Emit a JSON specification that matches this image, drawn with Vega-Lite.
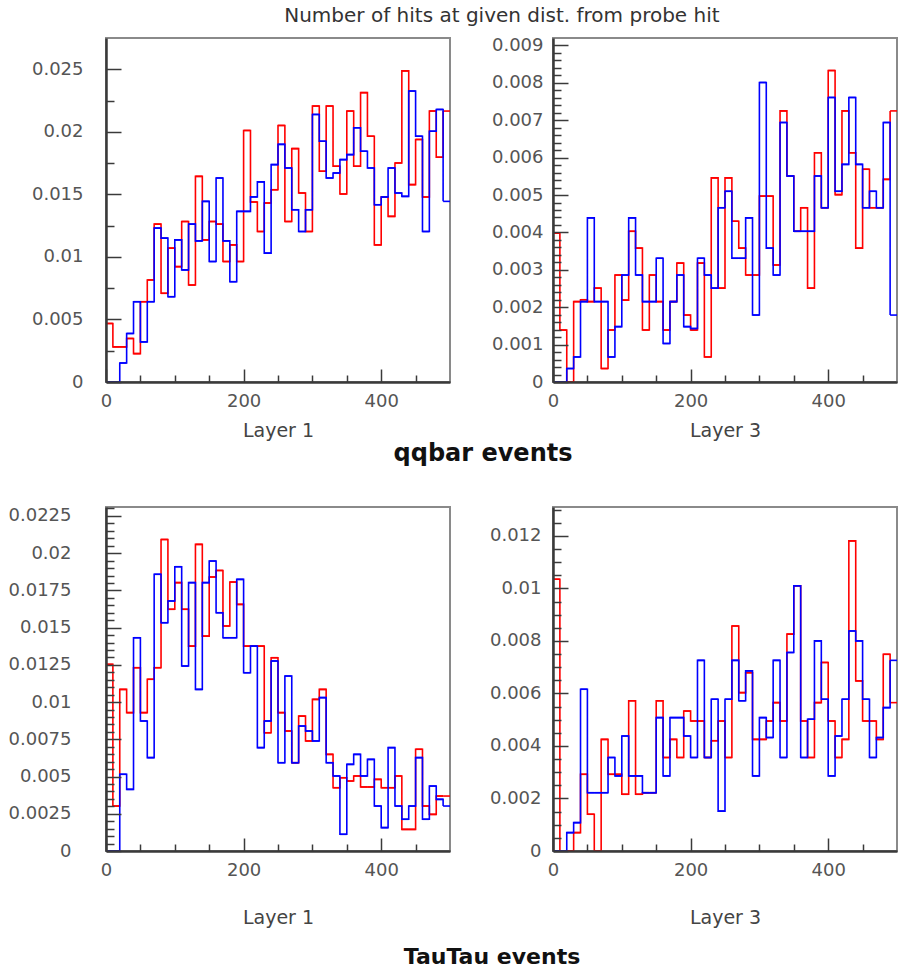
{
"$schema": "https://vega.github.io/schema/vega-lite/v6.json",
"background": "white",
"padding": {"left": 7, "top": 6, "right": 5, "bottom": 5},
"title": {"text": "Number of hits at given dist. from probe hit", "anchor": "middle", "frame": "bounds", "dx": 49, "font": "DejaVu Sans", "fontSize": 20, "fontWeight": "normal", "color": "#333", "offset": 9},
"config": {
  "view": {"stroke": "#8a8a8a", "strokeWidth": 2},
  "axis": {"grid": false, "domainColor": "#3a3a3a", "domainWidth": 2.5, "tickColor": "#3a3a3a", "tickWidth": 1.5, "labelFont": "DejaVu Sans", "labelFontSize": 18, "labelColor": "#555", "titleFont": "DejaVu Sans", "titleFontSize": 19, "titleFontWeight": "normal", "titleColor": "#444", "labelFlush": false, "zindex": 1}
},
"datasets": {
"q1": [
{"lo":0,"hi":10,"r":0.00468,"b":0},{"lo":10,"hi":20,"r":0.00281,"b":0},{"lo":20,"hi":30,"r":0.00281,"b":0.00152},{"lo":30,"hi":40,"r":0.00348,"b":0.00388},{"lo":40,"hi":50,"r":0.00227,"b":0.00642},
{"lo":50,"hi":60,"r":0.00642,"b":0.00321},{"lo":60,"hi":70,"r":0.00816,"b":0.00642},{"lo":70,"hi":80,"r":0.01262,"b":0.0123},{"lo":80,"hi":90,"r":0.00709,"b":0.0115},{"lo":90,"hi":100,"r":0.0107,"b":0.00682},
{"lo":100,"hi":110,"r":0.00922,"b":0.01136},{"lo":110,"hi":120,"r":0.01283,"b":0.00896},{"lo":120,"hi":130,"r":0.00775,"b":0.01262},{"lo":130,"hi":140,"r":0.01644,"b":0.01128},{"lo":140,"hi":150,"r":0.01136,"b":0.01444},
{"lo":150,"hi":160,"r":0.01283,"b":0.00963},{"lo":160,"hi":170,"r":0.01262,"b":0.01631},{"lo":170,"hi":180,"r":0.00963,"b":0.01128},{"lo":180,"hi":190,"r":0.01096,"b":0.00802},{"lo":190,"hi":200,"r":0.00963,"b":0.01364},
{"lo":200,"hi":210,"r":0.02011,"b":0.01364},{"lo":210,"hi":220,"r":0.01439,"b":0.0148},{"lo":220,"hi":230,"r":0.01203,"b":0.016},{"lo":230,"hi":240,"r":0.01431,"b":0.0103},{"lo":240,"hi":250,"r":0.01537,"b":0.01738},
{"lo":250,"hi":260,"r":0.02051,"b":0.019},{"lo":260,"hi":270,"r":0.01283,"b":0.01711},{"lo":270,"hi":280,"r":0.01866,"b":0.01377},{"lo":280,"hi":290,"r":0.01511,"b":0.01203},{"lo":290,"hi":300,"r":0.01203,"b":0.01377},
{"lo":300,"hi":310,"r":0.02206,"b":0.02139},{"lo":310,"hi":320,"r":0.01685,"b":0.01925},{"lo":320,"hi":330,"r":0.02206,"b":0.01631},{"lo":330,"hi":340,"r":0.01725,"b":0.01671},{"lo":340,"hi":350,"r":0.01503,"b":0.01778},
{"lo":350,"hi":360,"r":0.02166,"b":0.01818},{"lo":360,"hi":370,"r":0.01725,"b":0.02032},{"lo":370,"hi":380,"r":0.02313,"b":0.01845},{"lo":380,"hi":390,"r":0.01965,"b":0.01711},{"lo":390,"hi":400,"r":0.01096,"b":0.01417},
{"lo":400,"hi":410,"r":0.01479,"b":0.01479},{"lo":410,"hi":420,"r":0.01324,"b":0.01711},{"lo":420,"hi":430,"r":0.01751,"b":0.01511},{"lo":430,"hi":440,"r":0.02487,"b":0.01484},{"lo":440,"hi":450,"r":0.01578,"b":0.02326},
{"lo":450,"hi":460,"r":0.01939,"b":0.01965},{"lo":460,"hi":470,"r":0.01479,"b":0.01203},{"lo":470,"hi":480,"r":0.02166,"b":0.02005},{"lo":480,"hi":490,"r":0.01797,"b":0.02179},{"lo":490,"hi":500,"r":0.02166,"b":0.01444}
],
"q3": [
{"lo":0,"hi":10,"r":0.00398,"b":0},{"lo":10,"hi":20,"r":0.00139,"b":0},{"lo":20,"hi":30,"r":0,"b":0.00036},{"lo":30,"hi":40,"r":0.00215,"b":0.00067},{"lo":40,"hi":50,"r":0.0022,"b":0.00215},
{"lo":50,"hi":60,"r":0.00215,"b":0.00439},{"lo":60,"hi":70,"r":0.00251,"b":0.00215},{"lo":70,"hi":80,"r":0.00036,"b":0.00215},{"lo":80,"hi":90,"r":0.00139,"b":0.00067},{"lo":90,"hi":100,"r":0.00286,"b":0.00148},
{"lo":100,"hi":110,"r":0.00219,"b":0.00286},{"lo":110,"hi":120,"r":0.00403,"b":0.00439},{"lo":120,"hi":130,"r":0.00358,"b":0.00286},{"lo":130,"hi":140,"r":0.00139,"b":0.00215},{"lo":140,"hi":150,"r":0.00286,"b":0.00215},
{"lo":150,"hi":160,"r":0.00215,"b":0.00331},{"lo":160,"hi":170,"r":0.00139,"b":0.00103},{"lo":170,"hi":180,"r":0.00215,"b":0.00215},{"lo":180,"hi":190,"r":0.00318,"b":0.00286},{"lo":190,"hi":200,"r":0.00179,"b":0.00148},
{"lo":200,"hi":210,"r":0.00139,"b":0.00143},{"lo":210,"hi":220,"r":0.00318,"b":0.00331},{"lo":220,"hi":230,"r":0.00067,"b":0.00286},{"lo":230,"hi":240,"r":0.00546,"b":0.00251},{"lo":240,"hi":250,"r":0.00251,"b":0.00466},
{"lo":250,"hi":260,"r":0.00546,"b":0.0051},{"lo":260,"hi":270,"r":0.0043,"b":0.00331},{"lo":270,"hi":280,"r":0.00358,"b":0.00331},{"lo":280,"hi":290,"r":0.00286,"b":0.00439},{"lo":290,"hi":300,"r":0.00286,"b":0.00179},
{"lo":300,"hi":310,"r":0.00497,"b":0.00801},{"lo":310,"hi":320,"r":0.00497,"b":0.00358},{"lo":320,"hi":330,"r":0.00313,"b":0.00286},{"lo":330,"hi":340,"r":0.00725,"b":0.00694},{"lo":340,"hi":350,"r":0.00551,"b":0.00551},
{"lo":350,"hi":360,"r":0.00403,"b":0.00403},{"lo":360,"hi":370,"r":0.00466,"b":0.00403},{"lo":370,"hi":380,"r":0.00251,"b":0.00403},{"lo":380,"hi":390,"r":0.00613,"b":0.00551},{"lo":390,"hi":400,"r":0.00466,"b":0.00466},
{"lo":400,"hi":410,"r":0.00833,"b":0.00761},{"lo":410,"hi":420,"r":0.00501,"b":0.0051},{"lo":420,"hi":430,"r":0.00725,"b":0.00582},{"lo":430,"hi":440,"r":0.00613,"b":0.00761},{"lo":440,"hi":450,"r":0.00358,"b":0.00582},
{"lo":450,"hi":460,"r":0.00569,"b":0.00466},{"lo":460,"hi":470,"r":0.00466,"b":0.0051},{"lo":470,"hi":480,"r":0.00466,"b":0.00466},{"lo":480,"hi":490,"r":0.00542,"b":0.00694},{"lo":490,"hi":500,"r":0.00725,"b":0.00179}
],
"t1": [
{"lo":0,"hi":10,"r":0.01253,"b":0},{"lo":10,"hi":20,"r":0.00302,"b":0},{"lo":20,"hi":30,"r":0.01085,"b":0.00515},{"lo":30,"hi":40,"r":0.00929,"b":0.00414},{"lo":40,"hi":50,"r":0.01231,"b":0.01432},
{"lo":50,"hi":60,"r":0.00929,"b":0.00873},{"lo":60,"hi":70,"r":0.01153,"b":0.00627},{"lo":70,"hi":80,"r":0.01231,"b":0.01858},{"lo":80,"hi":90,"r":0.02092,"b":0.01533},{"lo":90,"hi":100,"r":0.01623,"b":0.01679},
{"lo":100,"hi":110,"r":0.01802,"b":0.01909},{"lo":110,"hi":120,"r":0.01623,"b":0.01242},{"lo":120,"hi":130,"r":0.01376,"b":0.01802},{"lo":130,"hi":140,"r":0.02059,"b":0.01085},{"lo":140,"hi":150,"r":0.01443,"b":0.01802},
{"lo":150,"hi":160,"r":0.0184,"b":0.01947},{"lo":160,"hi":170,"r":0.01884,"b":0.016},{"lo":170,"hi":180,"r":0.01511,"b":0.01432},{"lo":180,"hi":190,"r":0.01806,"b":0.01432},{"lo":190,"hi":200,"r":0.01656,"b":0.01824},
{"lo":200,"hi":210,"r":0.01376,"b":0.01197},{"lo":210,"hi":220,"r":0.01376,"b":0.01376},{"lo":220,"hi":230,"r":0.01376,"b":0.00694},{"lo":230,"hi":240,"r":0.00794,"b":0.00873},{"lo":240,"hi":250,"r":0.01298,"b":0.01276},
{"lo":250,"hi":260,"r":0.00929,"b":0.00593},{"lo":260,"hi":270,"r":0.00806,"b":0.01175},{"lo":270,"hi":280,"r":0.00593,"b":0.00593},{"lo":280,"hi":290,"r":0.00906,"b":0.00839},{"lo":290,"hi":300,"r":0.00739,"b":0.00806},
{"lo":300,"hi":310,"r":0.01018,"b":0.00739},{"lo":310,"hi":320,"r":0.01085,"b":0.0103},{"lo":320,"hi":330,"r":0.00649,"b":0.00593},{"lo":330,"hi":340,"r":0.00425,"b":0.00504},{"lo":340,"hi":350,"r":0.00492,"b":0.00112},
{"lo":350,"hi":360,"r":0.0047,"b":0.00582},{"lo":360,"hi":370,"r":0.00504,"b":0.00649},{"lo":370,"hi":380,"r":0.0043,"b":0.00504},{"lo":380,"hi":390,"r":0.0043,"b":0.00615},{"lo":390,"hi":400,"r":0.00481,"b":0.00302},
{"lo":400,"hi":410,"r":0.00425,"b":0.00157},{"lo":410,"hi":420,"r":0.00425,"b":0.00694},{"lo":420,"hi":430,"r":0.00504,"b":0.00302},{"lo":430,"hi":440,"r":0.00145,"b":0.00213},{"lo":440,"hi":450,"r":0.00145,"b":0.00302},
{"lo":450,"hi":460,"r":0.00683,"b":0.00627},{"lo":460,"hi":470,"r":0.00302,"b":0.00213},{"lo":470,"hi":480,"r":0.00246,"b":0.00436},{"lo":480,"hi":490,"r":0.00369,"b":0.00347},{"lo":490,"hi":500,"r":0.00369,"b":0.00302}
],
"t3": [
{"lo":0,"hi":10,"r":0.01035,"b":0},{"lo":10,"hi":20,"r":0,"b":0},{"lo":20,"hi":30,"r":0,"b":0.0007},{"lo":30,"hi":40,"r":0.0007,"b":0.00108},{"lo":40,"hi":50,"r":0.00292,"b":0.00616},
{"lo":50,"hi":60,"r":0.0014,"b":0.00222},{"lo":60,"hi":70,"r":0,"b":0.00222},{"lo":70,"hi":80,"r":0.00425,"b":0.00222},{"lo":80,"hi":90,"r":0.00292,"b":0.00356},{"lo":90,"hi":100,"r":0.00292,"b":0.00286},
{"lo":100,"hi":110,"r":0.00216,"b":0.00438},{"lo":110,"hi":120,"r":0.00572,"b":0.00286},{"lo":120,"hi":130,"r":0.00216,"b":0.00286},{"lo":130,"hi":140,"r":0.00222,"b":0.00222},{"lo":140,"hi":150,"r":0.00222,"b":0.00222},
{"lo":150,"hi":160,"r":0.00572,"b":0.00508},{"lo":160,"hi":170,"r":0.00356,"b":0.00286},{"lo":170,"hi":180,"r":0.00425,"b":0.00508},{"lo":180,"hi":190,"r":0.00356,"b":0.00508},{"lo":190,"hi":200,"r":0.00533,"b":0.00438},
{"lo":200,"hi":210,"r":0.00495,"b":0.00356},{"lo":210,"hi":220,"r":0.00495,"b":0.00726},{"lo":220,"hi":230,"r":0.00356,"b":0.00356},{"lo":230,"hi":240,"r":0.0042,"b":0.00578},{"lo":240,"hi":250,"r":0.00495,"b":0.00152},
{"lo":250,"hi":260,"r":0.00356,"b":0.00578},{"lo":260,"hi":270,"r":0.00857,"b":0.00726},{"lo":270,"hi":280,"r":0.00603,"b":0.00572},{"lo":280,"hi":290,"r":0.00679,"b":0.00686},{"lo":290,"hi":300,"r":0.00425,"b":0.00286},
{"lo":300,"hi":310,"r":0.00425,"b":0.00508},{"lo":310,"hi":320,"r":0.00495,"b":0.00432},{"lo":320,"hi":330,"r":0.00565,"b":0.00726},{"lo":330,"hi":340,"r":0.00495,"b":0.00356},{"lo":340,"hi":350,"r":0.00826,"b":0.00756},
{"lo":350,"hi":360,"r":0.0101,"b":0.0101},{"lo":360,"hi":370,"r":0.00495,"b":0.00356},{"lo":370,"hi":380,"r":0.00356,"b":0.00502},{"lo":380,"hi":390,"r":0.00565,"b":0.008},{"lo":390,"hi":400,"r":0.00718,"b":0.00578},
{"lo":400,"hi":410,"r":0.00495,"b":0.00286},{"lo":410,"hi":420,"r":0.00356,"b":0.00438},{"lo":420,"hi":430,"r":0.00425,"b":0.00578},{"lo":430,"hi":440,"r":0.01181,"b":0.00838},{"lo":440,"hi":450,"r":0.00648,"b":0.008},
{"lo":450,"hi":460,"r":0.00495,"b":0.00578},{"lo":460,"hi":470,"r":0.00495,"b":0.00356},{"lo":470,"hi":480,"r":0.00425,"b":0.00432},{"lo":480,"hi":490,"r":0.00749,"b":0.00546},{"lo":490,"hi":500,"r":0.00565,"b":0.00726}
]
},
"columns": 2,
"spacing": {"row": 125, "column": 103},
"bounds": "flush",
"concat": [
{
 "width": 344, "height": 344,
 "title": {"text": "qqbar events", "orient": "bottom", "anchor": "middle", "frame": "group", "dx": 205, "offset": 2, "fontSize": 24, "font": "DejaVu Sans", "fontWeight": "bold", "color": "#111"},
 "data": {"name": "q1"},
 "layer": [
  {"mark": {"type": "line", "interpolate": "step-after", "color": "#ff0000", "strokeWidth": 1.6},
   "encoding": {
    "x": {"field": "lo", "type": "quantitative", "scale": {"domain": [0, 500], "nice": false}, "axis": {"values": [0, 200, 400], "format": "d", "tickSize": -13, "labelPadding": 23, "title": "Layer 1", "titlePadding": 11, "orient": "bottom", "zindex": 1}},
    "y": {"field": "r", "type": "quantitative", "scale": {"domain": [0, 0.0275], "nice": false}, "axis": {"values": [0, 0.005, 0.01, 0.015, 0.02, 0.025], "format": ".4~g", "tickSize": -15, "labelPadding": 38, "title": null, "orient": "left", "zindex": 1}}}},
  {"mark": {"type": "rule", "color": "#ff0000", "strokeWidth": 1.6},
   "encoding": {"x": {"field": "lo", "type": "quantitative", "axis": null}, "x2": {"field": "hi"}, "y": {"field": "r", "type": "quantitative", "axis": null}}},
  {"mark": {"type": "line", "interpolate": "step-after", "color": "#0000ff", "strokeWidth": 1.6},
   "encoding": {"x": {"field": "lo", "type": "quantitative", "axis": null}, "y": {"field": "b", "type": "quantitative", "axis": null}}},
  {"mark": {"type": "rule", "color": "#0000ff", "strokeWidth": 1.6},
   "encoding": {"x": {"field": "lo", "type": "quantitative", "axis": {"values": [50, 100, 150, 250, 300, 350, 450], "labels": false, "domain": false, "tickSize": -7, "title": null, "orient": "bottom", "zindex": 1}}, "x2": {"field": "hi"},
    "y": {"field": "b", "type": "quantitative", "axis": {"values": [0.0025, 0.0075, 0.0125, 0.0175, 0.0225], "labels": false, "domain": false, "tickSize": -8, "title": null, "orient": "left", "zindex": 1}}}}
 ],
 "resolve": {"axis": {"x": "independent", "y": "independent"}}
},
{
 "width": 344, "height": 344,
 "data": {"name": "q3"},
 "layer": [
  {"mark": {"type": "line", "interpolate": "step-after", "color": "#ff0000", "strokeWidth": 1.6},
   "encoding": {
    "x": {"field": "lo", "type": "quantitative", "scale": {"domain": [0, 500], "nice": false}, "axis": {"values": [0, 200, 400], "format": "d", "tickSize": -13, "labelPadding": 23, "title": "Layer 3", "titlePadding": 11, "orient": "bottom", "zindex": 1}},
    "y": {"field": "r", "type": "quantitative", "scale": {"domain": [0, 0.0092], "nice": false}, "axis": {"values": [0, 0.001, 0.002, 0.003, 0.004, 0.005, 0.006, 0.007, 0.008, 0.009], "format": ".4~g", "tickSize": -15, "labelPadding": 25, "title": null, "orient": "left", "zindex": 1}}}},
  {"mark": {"type": "rule", "color": "#ff0000", "strokeWidth": 1.6},
   "encoding": {"x": {"field": "lo", "type": "quantitative", "axis": null}, "x2": {"field": "hi"}, "y": {"field": "r", "type": "quantitative", "axis": null}}},
  {"mark": {"type": "line", "interpolate": "step-after", "color": "#0000ff", "strokeWidth": 1.6},
   "encoding": {"x": {"field": "lo", "type": "quantitative", "axis": null}, "y": {"field": "b", "type": "quantitative", "axis": null}}},
  {"mark": {"type": "rule", "color": "#0000ff", "strokeWidth": 1.6},
   "encoding": {"x": {"field": "lo", "type": "quantitative", "axis": {"values": [50, 100, 150, 250, 300, 350, 450], "labels": false, "domain": false, "tickSize": -7, "title": null, "orient": "bottom", "zindex": 1}}, "x2": {"field": "hi"},
    "y": {"field": "b", "type": "quantitative", "axis": {"values": [0.0002,0.0004,0.0006,0.0008,0.0012,0.0014,0.0016,0.0018,0.0022,0.0024,0.0026,0.0028,0.0032,0.0034,0.0036,0.0038,0.0042,0.0044,0.0046,0.0048,0.0052,0.0054,0.0056,0.0058,0.0062,0.0064,0.0066,0.0068,0.0072,0.0074,0.0076,0.0078,0.0082,0.0084,0.0086,0.0088], "labels": false, "domain": false, "tickSize": -8, "title": null, "orient": "left", "zindex": 1}}}}
 ],
 "resolve": {"axis": {"x": "independent", "y": "independent"}}
},
{
 "width": 344, "height": 344,
 "title": {"text": "TauTau events", "orient": "bottom", "anchor": "middle", "frame": "group", "dx": 214, "offset": 20, "fontSize": 22, "font": "DejaVu Sans", "fontWeight": "bold", "color": "#111"},
 "data": {"name": "t1"},
 "layer": [
  {"mark": {"type": "line", "interpolate": "step-after", "color": "#ff0000", "strokeWidth": 1.6},
   "encoding": {
    "x": {"field": "lo", "type": "quantitative", "scale": {"domain": [0, 500], "nice": false}, "axis": {"values": [0, 200, 400], "format": "d", "tickSize": -13, "labelPadding": 23, "title": "Layer 1", "titlePadding": 29, "orient": "bottom", "zindex": 1}},
    "y": {"field": "r", "type": "quantitative", "scale": {"domain": [0, 0.0231], "nice": false}, "axis": {"values": [0, 0.0025, 0.005, 0.0075, 0.01, 0.0125, 0.015, 0.0175, 0.02, 0.0225], "format": ".4~g", "tickSize": -15, "labelPadding": 50, "title": null, "orient": "left", "zindex": 1}}}},
  {"mark": {"type": "rule", "color": "#ff0000", "strokeWidth": 1.6},
   "encoding": {"x": {"field": "lo", "type": "quantitative", "axis": null}, "x2": {"field": "hi"}, "y": {"field": "r", "type": "quantitative", "axis": null}}},
  {"mark": {"type": "line", "interpolate": "step-after", "color": "#0000ff", "strokeWidth": 1.6},
   "encoding": {"x": {"field": "lo", "type": "quantitative", "axis": null}, "y": {"field": "b", "type": "quantitative", "axis": null}}},
  {"mark": {"type": "rule", "color": "#0000ff", "strokeWidth": 1.6},
   "encoding": {"x": {"field": "lo", "type": "quantitative", "axis": {"values": [50, 100, 150, 250, 300, 350, 450], "labels": false, "domain": false, "tickSize": -7, "title": null, "orient": "bottom", "zindex": 1}}, "x2": {"field": "hi"},
    "y": {"field": "b", "type": "quantitative", "axis": {"values": [0.0005,0.001,0.0015,0.002,0.003,0.0035,0.004,0.0045,0.0055,0.006,0.0065,0.007,0.008,0.0085,0.009,0.0095,0.0105,0.011,0.0115,0.012,0.013,0.0135,0.014,0.0145,0.0155,0.016,0.0165,0.017,0.018,0.0185,0.019,0.0195,0.0205,0.021,0.0215,0.022,0.023], "labels": false, "domain": false, "tickSize": -8, "title": null, "orient": "left", "zindex": 1}}}}
 ],
 "resolve": {"axis": {"x": "independent", "y": "independent"}}
},
{
 "width": 344, "height": 344,
 "data": {"name": "t3"},
 "layer": [
  {"mark": {"type": "line", "interpolate": "step-after", "color": "#ff0000", "strokeWidth": 1.6},
   "encoding": {
    "x": {"field": "lo", "type": "quantitative", "scale": {"domain": [0, 500], "nice": false}, "axis": {"values": [0, 200, 400], "format": "d", "tickSize": -13, "labelPadding": 23, "title": "Layer 3", "titlePadding": 29, "orient": "bottom", "zindex": 1}},
    "y": {"field": "r", "type": "quantitative", "scale": {"domain": [0, 0.0131], "nice": false}, "axis": {"values": [0, 0.002, 0.004, 0.006, 0.008, 0.01, 0.012], "format": ".4~g", "tickSize": -15, "labelPadding": 27, "title": null, "orient": "left", "zindex": 1}}}},
  {"mark": {"type": "rule", "color": "#ff0000", "strokeWidth": 1.6},
   "encoding": {"x": {"field": "lo", "type": "quantitative", "axis": null}, "x2": {"field": "hi"}, "y": {"field": "r", "type": "quantitative", "axis": null}}},
  {"mark": {"type": "line", "interpolate": "step-after", "color": "#0000ff", "strokeWidth": 1.6},
   "encoding": {"x": {"field": "lo", "type": "quantitative", "axis": null}, "y": {"field": "b", "type": "quantitative", "axis": null}}},
  {"mark": {"type": "rule", "color": "#0000ff", "strokeWidth": 1.6},
   "encoding": {"x": {"field": "lo", "type": "quantitative", "axis": {"values": [50, 100, 150, 250, 300, 350, 450], "labels": false, "domain": false, "tickSize": -7, "title": null, "orient": "bottom", "zindex": 1}}, "x2": {"field": "hi"},
    "y": {"field": "b", "type": "quantitative", "axis": {"values": [0.0005,0.001,0.0015,0.0025,0.003,0.0035,0.0045,0.005,0.0055,0.0065,0.007,0.0075,0.0085,0.009,0.0095,0.0105,0.011,0.0115,0.0125,0.013], "labels": false, "domain": false, "tickSize": -8, "title": null, "orient": "left", "zindex": 1}}}}
 ],
 "resolve": {"axis": {"x": "independent", "y": "independent"}}
}
]
}
